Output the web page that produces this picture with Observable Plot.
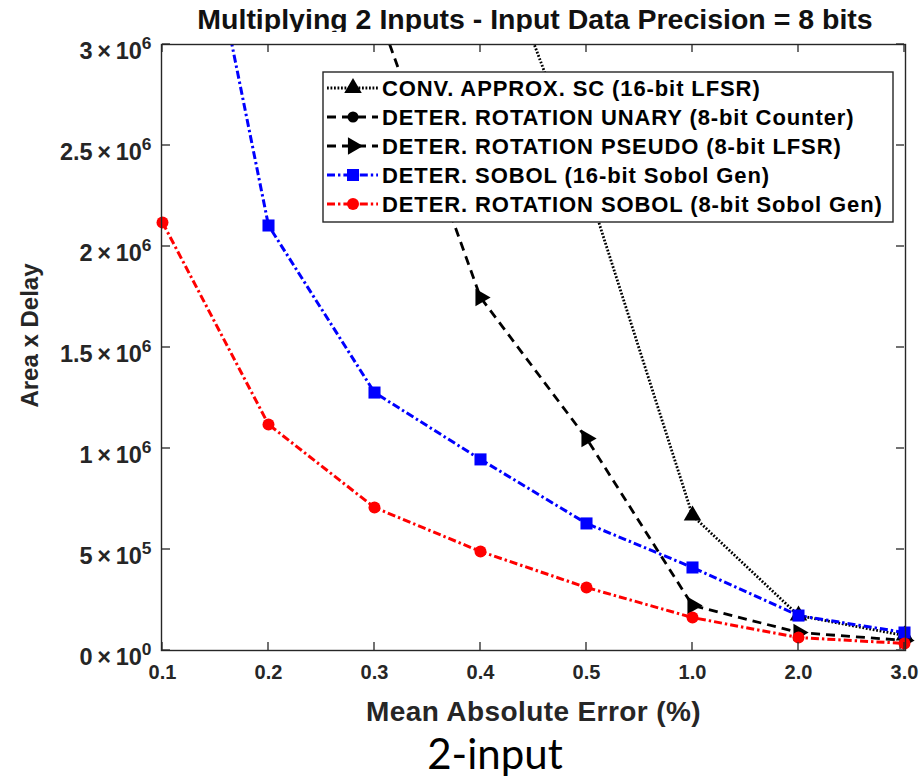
<!DOCTYPE html>
<html>
<head>
<meta charset="utf-8">
<script src="https://cdn.jsdelivr.net/npm/d3@7"></script>
<script src="https://cdn.jsdelivr.net/npm/@observablehq/plot@0.6"></script>
<style>
  html, body { margin: 0; padding: 0; background: #fff; }
  body { width: 924px; height: 783px; overflow: hidden; position: relative; font-family: "Liberation Sans", Arial, sans-serif; }
  #title { position: absolute; left: 146px; right: 0; top: 0; height: 38px; line-height: 38px; text-align: center;
           font-size: 28.5px; font-weight: bold; color: #111; white-space: nowrap; }
  #chart { position: absolute; left: 0; top: 32px; }
  #caption { position: absolute; left: 0; width: 990px; top: 728px; text-align: center; font-family: Lato, "Open Sans", sans-serif;
             font-size: 42px; color: #000; }
</style>
</head>
<body>
<div id="title">Multiplying 2 Inputs - Input Data Precision = 8 bits</div>
<div id="chart"></div>
<div id="caption">2-input</div>
<script>
// ---- data ----
const xLabels = ["0.1", "0.2", "0.3", "0.4", "0.5", "1.0", "2.0", "3.0"];
const seriesNames = [
  "CONV. APPROX. SC (16-bit LFSR)",
  "DETER. ROTATION UNARY (8-bit Counter)",
  "DETER. ROTATION PSEUDO (8-bit LFSR)",
  "DETER. SOBOL (16-bit Sobol Gen)",
  "DETER. ROTATION SOBOL (8-bit Sobol Gen)"
];
const convSC    = [null, null, null, 3.71e6, 2.31e6, 0.668e6, 0.173e6, 0.074e6];
const rotUnary  = [null, null, null, null, null, null, null, null]; // off the visible range
const rotPseudo = [null, null, 3.21e6, 1.748e6, 1.05e6, 0.223e6, 0.089e6, 0.05e6];
const sobol16   = [4.7e6, 2.104e6, 1.277e6, 0.946e6, 0.629e6, 0.411e6, 0.173e6, 0.089e6];
const rotSobol  = [2.119e6, 1.119e6, 0.708e6, 0.49e6, 0.312e6, 0.163e6, 0.064e6, 0.035e6];
const yTicks = [0, 5e5, 1e6, 1.5e6, 2e6, 2.5e6, 3e6];
const yTickLabels = ["0×10^0", "5×10^5", "1×10^6", "1.5×10^6", "2×10^6", "2.5×10^6", "3×10^6"];
const yMax = 3e6;

(function () {
// ---- layout & styles ----
const W = 924, H = 700, mT = 12, mB = 82, mL = 161, mR = 19;
const seriesValues = [convSC, rotUnary, rotPseudo, sobol16, rotSobol];
const styles = [
  {color: "#000000", dash: "1.8,1.7", width: 2.8, symbol: "triangle", rotate: 0, r: 6.5},
  {color: "#000000", dash: "9,6", width: 2.8, symbol: "circle", rotate: 0, r: 5.5},
  {color: "#000000", dash: "9,6", width: 2.8, symbol: "triangle", rotate: 90, r: 6.5},
  {color: "#0000ff", dash: "8,3,2.4,3", width: 3, symbol: "square", rotate: 0, r: 6.8},
  {color: "#ff0000", dash: "8,3,2.4,3", width: 3, symbol: "circle", rotate: 0, r: 6}
];

const tables = seriesValues.map((vals, s) =>
  xLabels.map((x, i) => ({x, y: vals[i], series: seriesNames[s]}))
);

const axisColor = "#262626";
const marks = [];
tables.forEach((t, s) => {
  const st = styles[s];
  marks.push(Plot.line(t, {x: "x", y: "y", stroke: st.color, strokeWidth: st.width, strokeDasharray: st.dash,
    strokeLinecap: "butt", strokeLinejoin: "round", clip: "frame", defined: d => d.y != null}));
});
tables.forEach((t, s) => {
  const st = styles[s];
  marks.push(Plot.dot(t.filter(d => d.y != null && d.y <= yMax), {x: "x", y: "y", symbol: () => st.symbol, r: st.r,
    fill: st.color, stroke: "none", rotate: st.rotate}));
});

const chart = Plot.plot({
  width: W,
  height: H,
  marginTop: mT,
  marginBottom: mB,
  marginLeft: mL,
  marginRight: mR,
  style: {fontFamily: "'Liberation Sans', Arial, sans-serif", background: "#fff"},
  x: {type: "point", domain: xLabels, padding: 0},
  y: {domain: [0, yMax]},
  symbol: {type: "identity"},
  marks: [
    ...marks,
    Plot.frame({stroke: axisColor, strokeWidth: 1.4}),
    Plot.axisX({tickSize: 0, tickPadding: 14, fontSize: 20, fontWeight: "bold", fill: axisColor, label: null}),
    Plot.axisY({ticks: yTicks, tickSize: 0, tickPadding: 10, dy: 7, fontSize: 23.5, fontWeight: "bold", fill: axisColor,
      tickFormat: d => yTickLabels[yTicks.indexOf(d)], label: null}),
    Plot.text(["Mean Absolute Error (%)"], {frameAnchor: "bottom", dy: 62, fontSize: 28, fontWeight: "bold",
      fill: axisColor, lineAnchor: "middle"}),
    Plot.text(["Area x Delay"], {frameAnchor: "left", dx: -131, dy: -12, rotate: -90, fontSize: 24, fontWeight: "bold",
      fill: axisColor, lineAnchor: "middle", textAnchor: "middle"})
  ]
});
document.getElementById("chart").appendChild(chart);

const svg = d3.select(chart);
svg.selectAll("text").filter(function () { return this.textContent === "Mean Absolute Error (%)"; })
  .attr("letter-spacing", "0.4px");

// superscript exponents on y tick labels
svg.selectAll('g[aria-label="y-axis tick label"] text').each(function () {
  const t = this.textContent;
  if (!t.includes("^")) return;
  const [base, exp] = t.split("^");
  const sel = d3.select(this);
  sel.text(null);
  sel.append("tspan").text(base.replace("×", "\u2009×\u2009"));
  sel.append("tspan").attr("dy", "-0.6em").attr("font-size", "0.74em").text(exp);
});

// inward tick marks on all four sides, using the chart's scales (with an equivalent fallback)
let sx = null, sy = null;
try { sx = chart.scale("x"); sy = chart.scale("y"); } catch (e) {}
const fbX = d3.scalePoint(xLabels, [mL, W - mR]).padding(0);
const fbY = d3.scaleLinear([0, yMax], [H - mB, mT]);
const fx = d => { const v = sx && sx.apply ? +sx.apply(d) : NaN; return Number.isFinite(v) ? v : fbX(d); };
const fy = d => { const v = sy && sy.apply ? +sy.apply(d) : NaN; return Number.isFinite(v) ? v : fbY(d); };
const xLeft = fx(xLabels[0]), xRight = fx(xLabels[xLabels.length - 1]);
const yBottom = fy(0), yTop = fy(yMax);
const tickLen = 8;
const tg = svg.append("g").attr("class", "ticks");
const tick = (x1, y1, x2, y2) => tg.append("path").attr("d", `M${x1},${y1}L${x2},${y2}`)
  .attr("stroke", axisColor).attr("stroke-width", 1.3).attr("fill", "none");
xLabels.forEach(d => {
  const x = fx(d);
  tick(x, yBottom, x, yBottom - tickLen);
  tick(x, yTop, x, yTop + tickLen);
});
yTicks.forEach(d => {
  const y = fy(d);
  tick(xLeft, y, xLeft + tickLen, y);
  tick(xRight, y, xRight - tickLen, y);
});

// legend box (drawn over the lines, like the original)
const lg = svg.append("g").attr("class", "legend").attr("text-anchor", "start");
const bx = 323, by = 72 - 32, bw = 570, bh = 150;
lg.append("rect").attr("x", bx).attr("y", by).attr("width", bw).attr("height", bh)
  .attr("fill", "#fff").attr("stroke", axisColor).attr("stroke-width", 1.4);
seriesNames.forEach((name, s) => {
  const st = styles[s];
  const cy = by + 16 + s * 29;
  lg.append("line").attr("x1", 327).attr("x2", 378).attr("y1", cy).attr("y2", cy)
    .attr("stroke", st.color).attr("stroke-width", st.width).attr("stroke-dasharray", st.dash);
  const sym = {triangle: d3.symbolTriangle, circle: d3.symbolCircle, square: d3.symbolSquare}[st.symbol];
  lg.append("path").attr("d", d3.symbol(sym, Math.PI * st.r * st.r)())
    .attr("transform", `translate(353,${cy}) rotate(${st.rotate})`).attr("fill", st.color);
  lg.append("text").attr("x", 382).attr("y", cy).attr("dy", "0.36em").attr("text-anchor", "start")
    .attr("font-size", 22).attr("letter-spacing", "0.9px").attr("font-weight", "bold").attr("fill", "#000").text(name);
});
})();
</script>
</body>
</html>
